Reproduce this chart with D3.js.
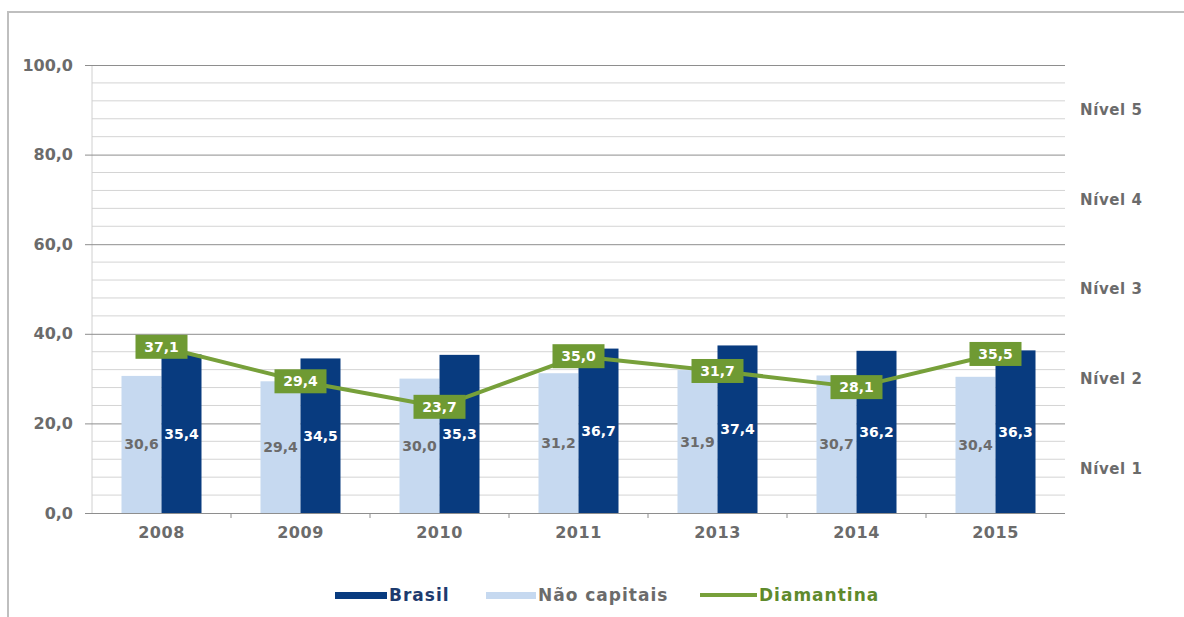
<!DOCTYPE html>
<html>
<head>
<meta charset="utf-8">
<script src="https://cdn.jsdelivr.net/npm/d3@7/dist/d3.min.js"></script>
<style>
  html, body { margin: 0; padding: 0; background: #fff; }
  svg { display: block; }
  text { font-family: "DejaVu Sans", sans-serif; font-weight: bold; }
</style>
</head>
<body>
<svg id="chart" width="1184" height="617"></svg>
<script>
const years = ['2008', '2009', '2010', '2011', '2013', '2014', '2015'];
const brasil = [35.4, 34.5, 35.3, 36.7, 37.4, 36.2, 36.3];
const naoCapitais = [30.6, 29.4, 30.0, 31.2, 31.9, 30.7, 30.4];
const diamantina = [37.1, 29.4, 23.7, 35.0, 31.7, 28.1, 35.5];
const yTicks = [0, 20, 40, 60, 80, 100];
const minorTicks = d3.range(0, 101, 4);
const niveis = ['Nível 1', 'Nível 2', 'Nível 3', 'Nível 4', 'Nível 5'];
const nivelValues = [10, 30, 50, 70, 90];
const seriesKeys = ['Não capitais', 'Brasil'];

const C = {
  navy: '#083b7f', light: '#c6d9f0', green: '#77a03a', greenBox: '#6f9a33',
  grey: '#6b6b6b', minor: '#d4d4d4', major: '#8e8e8e', frame: '#bfbfbf'
};
const fmt = v => d3.format('.1f')(v).replace('.', ',');

const svg = d3.select('#chart');
const pLeft = 92, pRight = 1065, pTop = 65, pBottom = 513;

const x = d3.scaleBand().domain(years).range([pLeft, pRight]).padding(0);
const xs = d3.scaleBand().domain(seriesKeys).range([-40, 40]).padding(0);
const y = d3.scaleLinear().domain([0, 100]).range([pBottom, pTop]);

// frame
svg.append('path').attr('d', `M8,617 V12 H1184`).attr('fill', 'none')
  .attr('stroke', C.frame).attr('stroke-width', 2);

// minor gridlines
svg.append('g').selectAll('line').data(minorTicks.filter(t => t % 20 !== 0)).join('line')
  .attr('x1', pLeft).attr('x2', pRight).attr('y1', d => y(d)).attr('y2', d => y(d))
  .attr('stroke', C.minor).attr('stroke-width', 1);

// vertical axis line
svg.append('line').attr('x1', pLeft).attr('x2', pLeft).attr('y1', y(100)).attr('y2', y(0))
  .attr('stroke', '#d0d0d0');

// y axis with major lines
const yAxis = svg.append('g').attr('transform', `translate(${pLeft},0)`)
  .call(d3.axisLeft(y).tickValues(yTicks).tickFormat(fmt).tickSize(7).tickPadding(12));
yAxis.select('.domain').remove();
yAxis.selectAll('.tick line').attr('stroke', C.major);
yAxis.selectAll('.tick').append('line').attr('x1', 0).attr('x2', pRight - pLeft)
  .attr('stroke', C.major).attr('stroke-width', 1);
yAxis.selectAll('.tick text').attr('fill', C.grey).attr('font-size', 16)
  .attr('font-family', 'DejaVu Sans').attr('font-weight', 'bold');

// category boundary ticks
svg.append('g').selectAll('line').data(years.slice(1)).join('line')
  .attr('x1', d => x(d)).attr('x2', d => x(d)).attr('y1', y(0)).attr('y2', y(0) + 5)
  .attr('stroke', C.major);

// x axis labels
const xAxis = svg.append('g').attr('transform', `translate(0,${pBottom})`)
  .call(d3.axisBottom(x).tickSize(0).tickPadding(14));
xAxis.select('.domain').remove();
xAxis.selectAll('.tick text').attr('fill', C.grey).attr('font-size', 16)
  .attr('font-family', 'DejaVu Sans').attr('font-weight', 'bold').attr('letter-spacing', 0.5);

// bars
const rows = years.map((yr, i) => ({ yr, vals: [
  { key: 'Não capitais', v: naoCapitais[i] }, { key: 'Brasil', v: brasil[i] }] }));
const groups = svg.append('g').selectAll('g').data(rows).join('g')
  .attr('transform', d => `translate(${x(d.yr) + x.bandwidth() / 2},0)`);
groups.selectAll('rect').data(d => d.vals).join('rect')
  .attr('x', d => xs(d.key)).attr('width', xs.bandwidth())
  .attr('y', d => y(d.v)).attr('height', d => y(0) - y(d.v))
  .attr('fill', d => d.key === 'Brasil' ? C.navy : C.light);
groups.selectAll('text').data(d => d.vals).join('text')
  .attr('x', d => xs(d.key) + xs.bandwidth() / 2)
  .attr('y', d => y(d.v / 2))
  .attr('dy', '0.36em').attr('text-anchor', 'middle').attr('font-size', 14)
  .attr('fill', d => d.key === 'Brasil' ? '#ffffff' : C.grey)
  .text(d => fmt(d.v));

// diamantina line
const cx = d => x(d) + x.bandwidth() / 2;
svg.append('path').datum(years.map((yr, i) => [cx(yr), y(diamantina[i])]))
  .attr('d', d3.line()).attr('fill', 'none').attr('stroke', C.green)
  .attr('stroke-width', 4).attr('stroke-linejoin', 'round');

const lbl = svg.append('g').selectAll('g').data(years.map((yr, i) => ({ yr, v: diamantina[i] }))).join('g')
  .attr('transform', d => `translate(${cx(d.yr)},${y(d.v)})`);
lbl.append('rect').attr('x', -26).attr('y', -12).attr('width', 52).attr('height', 24)
  .attr('fill', C.greenBox);
lbl.append('text').attr('text-anchor', 'middle').attr('dy', '0.36em')
  .attr('font-size', 14).attr('fill', '#ffffff').text(d => fmt(d.v));

// nivel labels
svg.append('g').selectAll('text').data(niveis).join('text')
  .attr('x', 1080).attr('y', (d, i) => y(nivelValues[i])).attr('dy', '0.36em')
  .attr('font-size', 15).attr('letter-spacing', 0.6).attr('fill', C.grey).text(d => d);

// legend
const legend = svg.append('g').attr('transform', 'translate(0,595)');
const legItems = [
  { name: 'Brasil', x: 335, w: 52, type: 'rect', color: C.navy, tcolor: '#1d3a6e' },
  { name: 'Não capitais', x: 486, w: 50, type: 'rect', color: C.light, tcolor: C.grey },
  { name: 'Diamantina', x: 700, w: 57, type: 'line', color: C.green, tcolor: '#5f8a2c' }
];
legItems.forEach(it => {
  if (it.type === 'rect') {
    legend.append('rect').attr('x', it.x).attr('y', -3).attr('width', it.w).attr('height', 7).attr('fill', it.color);
  } else {
    legend.append('line').attr('x1', it.x).attr('x2', it.x + it.w).attr('y1', 0).attr('y2', 0)
      .attr('stroke', it.color).attr('stroke-width', 4);
  }
  legend.append('text').attr('x', it.x + it.w + 2).attr('y', 0).attr('dy', '0.36em')
    .attr('font-size', 17).attr('letter-spacing', 1).attr('fill', it.tcolor).text(it.name);
});
</script>
</body>
</html>
